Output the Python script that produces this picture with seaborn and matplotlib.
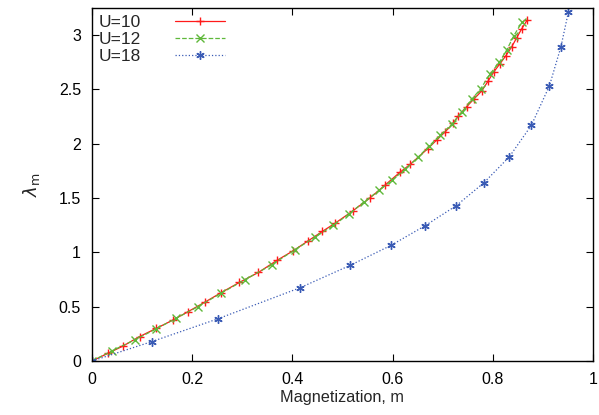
import matplotlib
matplotlib.use("Agg")
import matplotlib.pyplot as plt
import seaborn as sns
import pandas as pd

# U=10
u10_m = [0.0, 0.032, 0.062, 0.095, 0.128, 0.162, 0.192, 0.225, 0.258, 0.294, 0.332, 0.369,
         0.402, 0.432, 0.460, 0.486, 0.520, 0.555, 0.585, 0.615, 0.635, 0.670, 0.688, 0.705,
         0.721, 0.731, 0.748, 0.763, 0.778, 0.791, 0.802, 0.814, 0.826, 0.838, 0.848, 0.858, 0.869]
u10_l = [0.0, 0.071, 0.138, 0.225, 0.300, 0.378, 0.455, 0.541, 0.630, 0.723, 0.815, 0.926,
         1.016, 1.108, 1.194, 1.271, 1.380, 1.502, 1.620, 1.739, 1.810, 1.954, 2.034, 2.110,
         2.188, 2.256, 2.342, 2.415, 2.487, 2.580, 2.662, 2.735, 2.810, 2.895, 2.978, 3.061, 3.141]
# U=12
u12_m = [0.0, 0.039, 0.085, 0.128, 0.168, 0.212, 0.258, 0.305, 0.359, 0.405, 0.445, 0.482,
         0.512, 0.542, 0.573, 0.598, 0.625, 0.651, 0.673, 0.695, 0.718, 0.738, 0.758, 0.776,
         0.794, 0.813, 0.828, 0.842, 0.858]
u12_l = [0.0, 0.092, 0.194, 0.295, 0.394, 0.501, 0.625, 0.748, 0.886, 1.025, 1.139, 1.249,
         1.350, 1.462, 1.570, 1.662, 1.764, 1.877, 1.980, 2.080, 2.180, 2.290, 2.410, 2.507,
         2.640, 2.749, 2.865, 2.995, 3.118]
# U=18
u18_m = [0.0, 0.119, 0.251, 0.415, 0.515, 0.597, 0.665, 0.727, 0.782, 0.833, 0.877, 0.913, 0.936, 0.951]
u18_l = [0.0, 0.178, 0.388, 0.674, 0.880, 1.065, 1.246, 1.430, 1.640, 1.880, 2.170, 2.533, 2.893, 3.216]

labels = ["U=10", "U=12", "U=18"]
x_ticks = [0, 0.2, 0.4, 0.6, 0.8, 1]
x_ticklabels = ["0", "0.2", "0.4", "0.6", "0.8", "1"]
y_ticks = [0, 0.5, 1, 1.5, 2, 2.5, 3]
y_ticklabels = ["0", "0.5", "1", "1.5", "2", "2.5", "3"]

df = pd.concat([
    pd.DataFrame({"m": u10_m, "lam": u10_l, "U": labels[0]}),
    pd.DataFrame({"m": u12_m, "lam": u12_l, "U": labels[1]}),
    pd.DataFrame({"m": u18_m, "lam": u18_l, "U": labels[2]}),
])

sns.set_style("ticks")
plt.rcParams["font.family"] = ["Liberation Sans", "DejaVu Sans"]

fig = plt.figure(figsize=(5.99, 4.15), dpi=100)
ax = fig.add_axes([92 / 599, 54 / 415, 501 / 599, 353 / 415])

colors = ["#ff1a1a", "#5fb83a", "#3a5bb5"]
styles = ["-", "--", ":"]
markers = ["+", "x", (6, 2, 0)]
for lab, c, ls, mk in zip(labels, colors, styles, markers):
    sub = df[df["U"] == lab]
    sns.lineplot(data=sub, x="m", y="lam", ax=ax, color=c, linestyle=ls, linewidth=0.9,
                 marker=mk, markersize=6, markeredgewidth=1.0, markeredgecolor=c,
                 label=lab, sort=False, estimator=None)

ax.set_xlim(0, 1)
ax.set_ylim(0, 3.25)
ax.set_xticks(x_ticks)
ax.set_xticklabels(x_ticklabels)
ax.set_yticks(y_ticks)
ax.set_yticklabels(y_ticklabels)
ax.tick_params(direction="in", top=True, right=True, length=5, width=0.8, labelsize=11.5,
               pad=8, colors="black")
for s in ax.spines.values():
    s.set_visible(True)
    s.set_color("black")
    s.set_linewidth(1.0)

ax.set_xlabel("Magnetization, m", fontsize=11.7, labelpad=2)
ax.set_ylabel(r"$\lambda_\mathrm{m}$", fontsize=13, labelpad=12)

leg = ax.legend(loc="upper left", frameon=False, markerfirst=False, fontsize=12.5,
                handlelength=2.9, handletextpad=1.95, borderpad=0.25, borderaxespad=0.15,
                labelspacing=0.1, numpoints=1)

fig.savefig("out.png", dpi=100)
